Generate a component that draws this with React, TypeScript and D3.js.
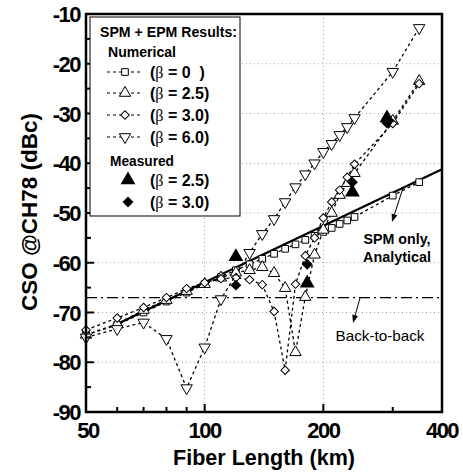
import React from 'react';
import * as d3 from 'd3';

// fiber lengths (km) and CSO (dBc)
const lenB0 = [50, 60, 70, 80, 90, 100, 110, 120, 130, 140, 150, 160, 170, 180, 190, 200, 210, 220, 230, 240, 300, 350];
const csoB0 = [-74.5, -72.5, -70, -67.8, -66, -64.3, -62.8, -61.5, -60.3, -59.2, -58.2, -57.2, -56.3, -55.4, -54.6, -53.8, -53, -52.2, -51.5, -50.8, -46.5, -43.8];

const lenB25 = [50, 60, 70, 80, 90, 100, 110, 120, 130, 140, 150, 160, 170, 180, 190, 200, 210, 220, 230, 240, 300, 350];
const csoB25 = [-74.5, -72.3, -69.5, -67.5, -65.7, -64.3, -63, -62, -61.5, -60.9, -62.1, -65.1, -78, -66.9, -58.4, -53.4, -50, -46.4, -44, -42, -31.5, -23.5];

const lenB30 = [50, 60, 70, 80, 90, 100, 110, 120, 130, 140, 150, 160, 170, 180, 190, 200, 210, 220, 230, 240, 300, 350];
const csoB30 = [-73.5, -71.1, -69, -67, -65.2, -64, -63.2, -63, -63.4, -64.4, -69.8, -81.6, -64.3, -58.6, -55, -51, -47.8, -45.4, -42.8, -40.2, -32, -24];

const lenB60 = [50, 60, 70, 80, 90, 100, 110, 130, 140, 150, 160, 170, 180, 190, 200, 210, 220, 230, 240, 300, 350];
const csoB60 = [-75, -73.3, -72, -75.3, -85.2, -77, -67.3, -58, -54.2, -51.2, -47.8, -44.8, -42.2, -40, -37.7, -36.1, -34.3, -32.7, -30.9, -21.6, -12.8];

const measLen = [120, 182, 237, 290];
const measB25 = [-58.8, -64.1, -45.8, -30.9];
const measB30 = [-64.5, -60.3, -43.8, -31.9];

const analyticLen = [60, 400];
const analyticCso = [-72.3, -41.2];
const backToBack = -67;

const xTicks = [50, 100, 200, 400];
const xMinor = [60, 70, 80, 90, 300];
const yTicks = [-90, -80, -70, -60, -50, -40, -30, -20, -10];
const yMinor = [-85, -75, -65, -55, -45, -35, -25, -15];
const gridX = [100, 200];
const gridY = [-80, -70, -60, -50, -40, -30, -20];

const sans = '"Liberation Sans", Arial, sans-serif';

// small filled arrowhead with its tip at (x2,y2)
function Arrow({ x1, y1, x2, y2 }: { x1: number, y1: number, x2: number, y2: number }) {
  const a = Math.atan2(y2 - y1, x2 - x1);
  const len = 8, w = 3;
  const bx = x2 - len * Math.cos(a), by = y2 - len * Math.sin(a);
  const px = -Math.sin(a) * w, py = Math.cos(a) * w;
  return (
    <g>
      <line x1={x1} y1={y1} x2={bx} y2={by} stroke="#000" strokeWidth={1} />
      <path d={`M${x2},${y2}L${bx + px},${by + py}L${bx - px},${by - py}Z`} fill="#000" />
    </g>
  );
}

export default function App() {
  const x = d3.scaleLog().domain([50, 400]).range([86, 442]);
  const y = d3.scaleLinear().domain([-90, -10]).range([412, 14]);

  const line = d3.line<[number, number]>()
    .x(d => x(d[0]))
    .y(d => y(d[1]));

  const sq = d3.symbol().type(d3.symbolSquare).size(44)();
  const tri = d3.symbol().type(d3.symbolTriangle).size(56)();
  const dia = d3.symbol().type(d3.symbolSquare).size(36)();
  const triBig = d3.symbol().type(d3.symbolTriangle).size(95)();
  const diaBig = d3.symbol().type(d3.symbolSquare).size(60)();

  const series = [
    { len: lenB0, cso: csoB0, path: sq, rot: 0 },
    { len: lenB25, cso: csoB25, path: tri, rot: 0 },
    { len: lenB30, cso: csoB30, path: dia, rot: 45 },
    { len: lenB60, cso: csoB60, path: tri, rot: 180 },
  ];

  const legendRows = [
    { path: sq, rot: 0, label: '0  ', ty: 72 },
    { path: tri, rot: 0, label: '2.5', ty: 93 },
    { path: dia, rot: 45, label: '3.0', ty: 115 },
    { path: tri, rot: 180, label: '6.0', ty: 137 },
  ];

  return (
    <svg width={463} height={472} style={{ position: 'absolute', left: 0, top: 0 }}>
      <rect width={463} height={472} fill="#fff" />

      {/* grid */}
      {gridX.map(v => (
        <line key={'gx' + v} x1={x(v)} x2={x(v)} y1={14} y2={412} stroke="#888" strokeWidth={0.8} strokeDasharray="1,3" />
      ))}
      {gridY.map(v => (
        <line key={'gy' + v} x1={86} x2={442} y1={y(v)} y2={y(v)} stroke="#888" strokeWidth={0.8} strokeDasharray="1,3" />
      ))}

      {/* back-to-back and analytical lines */}
      <line x1={86} x2={442} y1={y(backToBack)} y2={y(backToBack)} stroke="#000" strokeWidth={1.4} strokeDasharray="11,4,2,4" />
      <path d={line(analyticLen.map((l, i) => [l, analyticCso[i]]) as [number, number][]) || ''} fill="none" stroke="#000" strokeWidth={2.2} />

      {/* numerical series */}
      {series.map((s, si) => (
        <g key={'s' + si}>
          <path d={line(s.len.map((l, i) => [l, s.cso[i]]) as [number, number][]) || ''} fill="none" stroke="#000" strokeWidth={1.3} strokeDasharray="3,3" />
          {s.len.map((l, i) => (
            <path key={i} d={s.path || ''} transform={`translate(${x(l)},${y(s.cso[i])}) rotate(${s.rot})`} fill="#fff" stroke="#000" strokeWidth={1} />
          ))}
        </g>
      ))}

      {/* measured */}
      {measLen.map((l, i) => (
        <path key={'m25' + i} d={triBig || ''} transform={`translate(${x(l)},${y(measB25[i])})`} fill="#000" />
      ))}
      {measLen.map((l, i) => (
        <path key={'m30' + i} d={diaBig || ''} transform={`translate(${x(l)},${y(measB30[i])}) rotate(45)`} fill="#000" />
      ))}

      {/* frame */}
      <rect x={86} y={14} width={356} height={398} fill="none" stroke="#000" strokeWidth={2.5} />

      {/* ticks */}
      {xTicks.map(v => (
        <line key={'xt' + v} x1={x(v)} x2={x(v)} y1={412} y2={404} stroke="#000" strokeWidth={2} />
      ))}
      {xMinor.map(v => (
        <line key={'xm' + v} x1={x(v)} x2={x(v)} y1={412} y2={407} stroke="#000" strokeWidth={2} />
      ))}
      {yTicks.map(v => (
        <line key={'yt' + v} x1={86} x2={94} y1={y(v)} y2={y(v)} stroke="#000" strokeWidth={2} />
      ))}
      {yMinor.map(v => (
        <line key={'ym' + v} x1={86} x2={91} y1={y(v)} y2={y(v)} stroke="#000" strokeWidth={2} />
      ))}

      {/* tick labels */}
      {yTicks.map(v => (
        <text key={'yl' + v} x={80} y={y(v) + 8} textAnchor="end" fontFamily={sans} fontWeight="bold" fontSize={22} letterSpacing={-1.5}>{v}</text>
      ))}
      {xTicks.map(v => (
        <text key={'xl' + v} x={x(v) + (v === 50 ? 2 : 0)} y={438} textAnchor="middle" fontFamily={sans} fontWeight="bold" fontSize={22} letterSpacing={-1.5}>{v}</text>
      ))}

      {/* axis titles */}
      <text x={264} y={465} textAnchor="middle" fontFamily={sans} fontWeight="bold" fontSize={22} textLength={182} lengthAdjust="spacingAndGlyphs">Fiber Length (km)</text>
      <text transform="translate(37,212) rotate(-90)" textAnchor="middle" fontFamily={sans} fontWeight="bold" fontSize={22} textLength={198} lengthAdjust="spacingAndGlyphs">CSO @CH78 (dBc)</text>

      {/* legend */}
      <rect x={90} y={17} width={150} height={199} fill="#fff" stroke="#000" strokeWidth={1} />
      <text x={100} y={37} fontFamily={sans} fontWeight="bold" fontSize={15} textLength={137} lengthAdjust="spacingAndGlyphs">SPM + EPM Results:</text>
      <text x={108} y={57} fontFamily={sans} fontWeight="bold" fontSize={15} textLength={68} lengthAdjust="spacingAndGlyphs">Numerical</text>
      {legendRows.map((r, i) => (
        <g key={'lg' + i}>
          <line x1={107} x2={143} y1={r.ty} y2={r.ty} stroke="#000" strokeWidth={1} strokeDasharray="3,3" />
          <path d={r.path || ''} transform={`translate(125,${r.ty}) rotate(${r.rot})`} fill="#fff" stroke="#000" strokeWidth={1} />
          <text x={150} y={r.ty + 6} fontFamily={sans} fontWeight="bold" fontSize={16} xmlSpace="preserve">
            (<tspan fontFamily='"Liberation Serif", serif' fontWeight="normal">β</tspan> = {r.label})
          </text>
        </g>
      ))}
      <text x={110} y={166} fontFamily={sans} fontWeight="bold" fontSize={15} textLength={64} lengthAdjust="spacingAndGlyphs">Measured</text>
      <path d={triBig || ''} transform="translate(128,180)" fill="#000" />
      <text x={150} y={186} fontFamily={sans} fontWeight="bold" fontSize={16}>
        (<tspan fontFamily='"Liberation Serif", serif' fontWeight="normal">β</tspan> = 2.5)
      </text>
      <path d={diaBig || ''} transform="translate(128,202) rotate(45)" fill="#000" />
      <text x={150} y={208} fontFamily={sans} fontWeight="bold" fontSize={16}>
        (<tspan fontFamily='"Liberation Serif", serif' fontWeight="normal">β</tspan> = 3.0)
      </text>

      {/* annotations */}
      <text x={397} y={244} textAnchor="middle" fontFamily={sans} fontWeight="bold" fontSize={15} textLength={67} lengthAdjust="spacingAndGlyphs">SPM only,</text>
      <text x={397} y={262} textAnchor="middle" fontFamily={sans} fontSize={15} fontWeight="bold" textLength={68} lengthAdjust="spacingAndGlyphs">Analytical</text>
      <Arrow x1={403} y1={188} x2={392} y2={222} />
      <text x={380} y={341} textAnchor="middle" fontFamily={sans} fontSize={15} textLength={89} lengthAdjust="spacingAndGlyphs">Back-to-back</text>
      <Arrow x1={360} y1={298} x2={353} y2={323} />
    </svg>
  );
}
